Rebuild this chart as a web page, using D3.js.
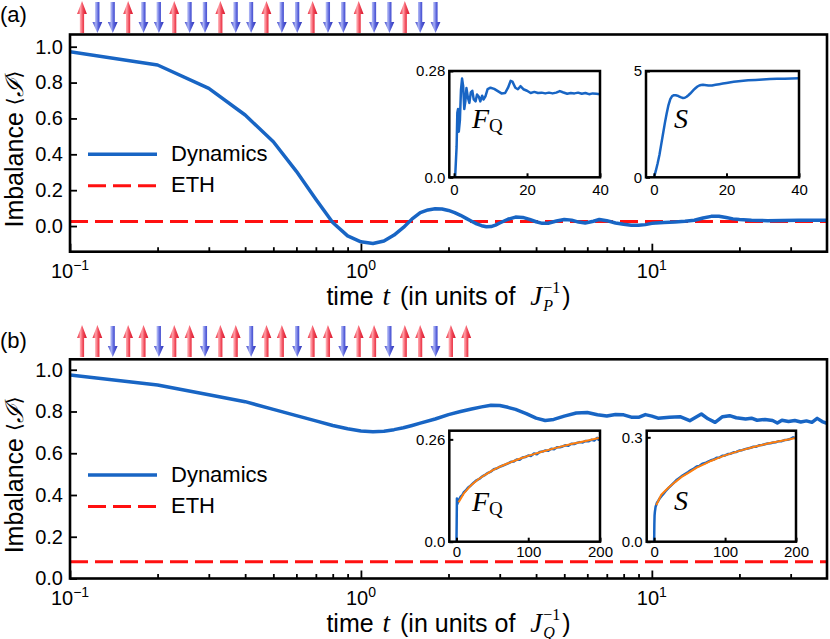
<!DOCTYPE html>
<html><head><meta charset="utf-8">
<script src="https://cdn.jsdelivr.net/npm/d3@7"></script>
<style>
body{margin:0;background:#fff;}
svg{display:block;}
</style></head><body>
<svg id="c" width="830" height="639"></svg>
<script>
// ---------------- data ----------------
const spinsA = [1,-1,-1,1,-1,-1,1,-1,-1,1,-1,-1,1,-1,-1,1,-1,-1,1,-1,-1,1,-1,-1];
const spinsB = [1,1,-1,1,1,-1,1,1,-1,1,1,-1,1,1,-1,1,1,-1,1,1,-1,1,1,-1,1,1];

const tA = [0.1,0.2,0.3,0.4,0.5,0.6,0.7,0.8,0.9,1.0,1.1,1.2,1.3,1.4,1.5,1.6,1.7,1.8,1.9,2.0,2.1,2.2,2.3,2.4,2.5,2.6,2.7,2.8,2.9,3.0,3.2,3.4,3.6,3.8,4.0,4.2,4.4,4.7,5.0,5.3,5.6,5.9,6.3,6.6,7.0,7.5,8.0,8.5,9.0,9.5,10,11,12,13,14,15,16,17,18,19,20,22,25,28,32,36,40];
const imbA = [0.972,0.898,0.768,0.619,0.47,0.305,0.15,0.02,-0.055,-0.088,-0.097,-0.083,-0.05,-0.008,0.04,0.075,0.09,0.096,0.095,0.087,0.075,0.06,0.043,0.027,0.012,0.002,-0.004,-0.003,0.005,0.017,0.038,0.05,0.048,0.037,0.024,0.015,0.016,0.028,0.037,0.033,0.022,0.017,0.027,0.037,0.03,0.017,0.01,0.005,0.004,0.008,0.015,0.02,0.023,0.027,0.032,0.045,0.054,0.055,0.048,0.04,0.036,0.032,0.03,0.031,0.033,0.032,0.033];

const tB = [0.1,0.2,0.3,0.4,0.5,0.6,0.7,0.8,0.9,1.0,1.1,1.2,1.3,1.4,1.5,1.6,1.8,2.0,2.2,2.4,2.6,2.8,3.0,3.2,3.4,3.7,4.0,4.3,4.6,5.0,5.5,6.0,6.5,7.0,7.5,8.0,8.5,9.0,9.5,10,10.5,11.5,12.5,13.5,14.8,15.6,16.5,17.5,18.5,19.5,21,22,23,24.5,26,27,28,29.5,31,32.5,34,35.5,37,38.5,40];
const imbB = [0.975,0.927,0.88,0.847,0.81,0.78,0.755,0.733,0.717,0.707,0.703,0.705,0.713,0.722,0.733,0.744,0.764,0.785,0.8,0.812,0.822,0.83,0.829,0.82,0.81,0.79,0.768,0.757,0.762,0.778,0.793,0.795,0.784,0.778,0.786,0.784,0.773,0.772,0.785,0.778,0.768,0.772,0.775,0.756,0.788,0.765,0.748,0.775,0.78,0.77,0.764,0.768,0.758,0.762,0.757,0.745,0.758,0.752,0.757,0.75,0.755,0.748,0.767,0.752,0.743];

const ethA = 0.025;
const ethB = 0.08;

const timeDomain = [0.1, 40];
const majorTimeTicks = [0.1, 1, 10];
const majorTimeExp = ["\u22121", "0", "1"];
const minorTimeTicks = [0.2,0.3,0.4,0.5,0.6,0.7,0.8,0.9,2,3,4,5,6,7,8,9,20,30];
const yTicksA = [0.0, 0.2, 0.4, 0.6, 0.8, 1.0];
const yTicksB = [0.0, 0.2, 0.4, 0.6, 0.8, 1.0];

// inset (a) Fisher information
const fqAx = [0,0.3,0.7,0.9,1.1,1.3,1.6,1.9,2.2,2.5,2.8,3.1,3.4,3.8,4.2,4.6,5.0,5.4,5.9,6.3,6.8,7.2,7.7,8.1,8.6,9.2,10,11,12,13,14,14.8,15.5,16,16.8,17.5,18.2,19,20,21,22,23,24,25,26,27,28,29,29.8,31,32,33,34,35,36,37,38,39,40];
const fqAy = [0,0,0.08,0.17,0.18,0.12,0.15,0.23,0.26,0.24,0.18,0.2,0.235,0.21,0.196,0.224,0.228,0.205,0.2,0.218,0.212,0.2,0.215,0.205,0.213,0.232,0.236,0.233,0.227,0.221,0.222,0.236,0.254,0.252,0.236,0.232,0.24,0.232,0.228,0.222,0.225,0.222,0.223,0.221,0.223,0.221,0.223,0.227,0.224,0.22,0.222,0.221,0.223,0.22,0.222,0.219,0.221,0.22,0.219];
// inset (a) entropy
const sAx = [0,0.5,1,1.5,2,2.5,3,3.5,4,4.5,5,5.5,6,6.5,7,7.5,8,8.5,9,9.5,10,10.5,11,11.5,12,12.5,13,13.5,14,15,16,17,18,19,20,22,24,26,28,30,32,34,36,38,40];
const sAy = [0,0.3,0.65,1.05,1.55,2.05,2.55,3.0,3.4,3.68,3.82,3.86,3.86,3.84,3.8,3.76,3.73,3.74,3.79,3.86,3.94,4.03,4.12,4.2,4.27,4.32,4.34,4.35,4.34,4.32,4.32,4.35,4.38,4.41,4.44,4.49,4.53,4.56,4.58,4.6,4.62,4.63,4.64,4.65,4.66];
// inset (b) Fisher information
const fqBx = [0,0.3,0.6,1,2,4,6,8,10,13,16,20,24,28,32,36,40,44,48,52,56,60,64,68,72,76,80,84,88,92,96,100,104,108,112,116,120,124,128,132,136,140,144,148,152,156,160,164,168,172,176,180,184,188,192,196,198,200];
const fqBy = [0,0.05,0.11,0.095,0.1,0.108,0.115,0.118,0.125,0.13,0.137,0.143,0.15,0.156,0.16,0.166,0.17,0.175,0.178,0.184,0.186,0.19,0.193,0.196,0.199,0.203,0.204,0.209,0.208,0.214,0.215,0.219,0.218,0.224,0.222,0.228,0.229,0.232,0.231,0.236,0.235,0.24,0.24,0.242,0.245,0.244,0.249,0.248,0.251,0.253,0.252,0.256,0.255,0.259,0.257,0.264,0.259,0.262];
const fqFitBx = [3,10,20,30,40,50,60,70,80,90,100,120,140,160,180,200];
const fqFitBy = [0.1,0.122,0.143,0.158,0.17,0.181,0.19,0.198,0.205,0.212,0.218,0.229,0.239,0.248,0.256,0.264];
// inset (b) entropy
const sBx = [0,0.3,0.6,1,2,4,6,8,10,13,16,20,24,28,32,36,40,44,48,52,56,60,64,68,72,76,80,84,88,92,96,100,104,108,112,116,120,124,128,132,136,140,144,148,152,156,160,164,168,172,176,180,184,188,192,196,200];
const sBy = [0,0.05,0.075,0.085,0.1,0.112,0.118,0.125,0.13,0.137,0.145,0.154,0.162,0.17,0.178,0.184,0.19,0.195,0.2,0.206,0.21,0.216,0.218,0.224,0.226,0.23,0.234,0.236,0.241,0.242,0.247,0.248,0.252,0.253,0.257,0.258,0.262,0.263,0.266,0.268,0.27,0.273,0.273,0.277,0.278,0.28,0.282,0.283,0.285,0.286,0.289,0.289,0.292,0.293,0.295,0.3,0.297];
const sFitBx = [3,10,20,30,40,50,60,70,80,90,100,120,140,160,180,200];
const sFitBy = [0.105,0.135,0.155,0.172,0.188,0.2,0.213,0.222,0.232,0.24,0.248,0.261,0.272,0.282,0.29,0.298];

// ---------------- drawing ----------------
const SANS = '"Liberation Sans", Arial, Helvetica, sans-serif';
const SERIF = '"Liberation Serif", "DejaVu Serif", "Times New Roman", serif';
const BLUE = "#1865c4", RED = "#ff1010", ORANGE = "#ff7f0e";
const svg = d3.select("#c");
const defs = svg.append("defs");

function grad(id, stops) {
  const g = defs.append("linearGradient").attr("id", id).attr("x1","0").attr("x2","1").attr("y1","0").attr("y2","0");
  stops.forEach(s => g.append("stop").attr("offset", s[0]).attr("stop-color", s[1]));
}
grad("gRed", [["0%","#e8283a"],["35%","#ffa0a8"],["60%","#f04858"],["100%","#d8142a"]]);
grad("gBlue", [["0%","#3c44c8"],["35%","#a8b0f4"],["60%","#5660da"],["100%","#3036b8"]]);

function rich(parent, pieces, x, y, anchor) {
  const g = parent.append("g");
  let cx = 0, lastX = 0, lastW = 0;
  pieces.forEach(p => {
    const t = g.append("text").text(p.t)
      .attr("y", p.dy || 0)
      .style("font-family", p.font || (p.serif ? SERIF : SANS))
      .style("font-size", p.size + "px")
      .style("font-style", p.italic ? "italic" : "normal")
      .attr("fill", "#000");
    const w = t.node().getComputedTextLength();
    if (p.stack) {
      t.attr("x", lastX);
      const m = Math.max(lastW, w);
      cx = lastX + m + (p.gap || 0); lastW = m;
    } else {
      t.attr("x", cx); lastX = cx; lastW = w; cx += w + (p.gap || 0);
    }
  });
  const off = anchor === "middle" ? -cx / 2 : anchor === "end" ? -cx : 0;
  g.attr("transform", `translate(${x + off},${y})`);
  return g;
}

function drawArrows(spins, yTop, yBot) {
  const ax = d3.scaleLinear().domain([0, 1]).range([82, 82 + 15.37]);
  const g = svg.append("g");
  spins.forEach((s, i) => {
    const cx = ax(i);
    let p;
    if (s > 0) {
      const hb = yTop + 13;
      p = `M${cx-2.1},${yBot} L${cx-2.1},${hb} L${cx-4.9},${hb} L${cx},${yTop} L${cx+4.9},${hb} L${cx+2.1},${hb} L${cx+2.1},${yBot} Z`;
    } else {
      const hb = yBot - 11;
      p = `M${cx-2.1},${yTop+1} L${cx-2.1},${hb} L${cx-4.9},${hb} L${cx},${yBot} L${cx+4.9},${hb} L${cx+2.1},${hb} L${cx+2.1},${yTop+1} Z`;
    }
    g.append("path").attr("d", p).attr("fill", s > 0 ? "url(#gRed)" : "url(#gBlue)");
  });
}

function drawInset(cfg) {
  const g = svg.append("g");
  const x = d3.scaleLinear().domain(cfg.xDomain).range([cfg.left, cfg.right]);
  const y = d3.scaleLinear().domain(cfg.yDomain).range([cfg.bottom, cfg.top]);
  g.append("rect").attr("x", cfg.left).attr("y", cfg.top)
    .attr("width", cfg.right - cfg.left).attr("height", cfg.bottom - cfg.top).attr("fill", "#fff");
  const cid = "clip" + cfg.id;
  defs.append("clipPath").attr("id", cid).append("rect")
    .attr("x", cfg.left).attr("y", cfg.top).attr("width", cfg.right - cfg.left).attr("height", cfg.bottom - cfg.top);
  const lines = g.append("g").attr("clip-path", `url(#${cid})`);
  cfg.series.forEach(s => {
    const line = d3.line().x((d, i) => x(s.x[i])).y((d, i) => y(s.y[i]));
    lines.append("path").datum(s.y).attr("d", line).attr("fill", "none")
      .attr("stroke", s.color).attr("stroke-width", s.w).attr("stroke-linejoin", "round");
  });
  // ticks
  const xa = d3.axisBottom(x).tickValues(cfg.xTicks).tickSize(-4).tickPadding(5).tickFormat(d3.format("d"));
  const xg = g.append("g").attr("transform", `translate(0,${cfg.bottom})`).call(xa);
  const ya = d3.axisLeft(y).tickValues(cfg.yTicks).tickSize(-4).tickPadding(4).tickFormat((d, i) => cfg.yLabels[i]);
  const yg = g.append("g").attr("transform", `translate(${cfg.left},0)`).call(ya);
  [xg, yg].forEach(a => {
    a.select(".domain").remove();
    a.selectAll("line").attr("stroke", "#000").attr("stroke-width", 2);
    a.selectAll("text").style("font-family", SANS).style("font-size", "15px").attr("fill", "#000");
  });
  xg.selectAll("text").attr("y", 0).attr("dy", 0).attr("transform", `translate(0,${cfg.xLabY})`);
  g.append("rect").attr("x", cfg.left).attr("y", cfg.top)
    .attr("width", cfg.right - cfg.left).attr("height", cfg.bottom - cfg.top)
    .attr("fill", "none").attr("stroke", "#000").attr("stroke-width", 2.5);
  rich(g, cfg.label, cfg.labX, cfg.labY, "start");
}

function drawMain(cfg) {
  const L = 70, R = 827;
  const x = d3.scaleLog().domain(timeDomain).range([L, R]);
  const y = d3.scaleLinear().domain(cfg.yDomain).range([cfg.bottom, cfg.top]);
  const g = svg.append("g");
  const cid = "clipMain" + cfg.id;
  defs.append("clipPath").attr("id", cid).append("rect")
    .attr("x", L).attr("y", cfg.top).attr("width", R - L).attr("height", cfg.bottom - cfg.top);
  const plot = g.append("g").attr("clip-path", `url(#${cid})`);
  // ETH
  plot.append("line").attr("x1", x(timeDomain[0])).attr("x2", x(timeDomain[1]))
    .attr("y1", y(cfg.eth)).attr("y2", y(cfg.eth))
    .attr("stroke", RED).attr("stroke-width", 3).attr("stroke-dasharray", "18,7");
  const line = d3.line().x((d, i) => x(cfg.t[i])).y((d, i) => y(cfg.v[i]));
  plot.append("path").datum(cfg.v).attr("d", line).attr("fill", "none")
    .attr("stroke", BLUE).attr("stroke-width", 3.5).attr("stroke-linejoin", "round");

  // axes
  const xa = d3.axisBottom(x).tickValues(majorTimeTicks).tickSize(-8).tickFormat("");
  const xm = d3.axisBottom(x).tickValues(minorTimeTicks).tickSize(-4.5).tickFormat("");
  const ya = d3.axisLeft(y).tickValues(cfg.yTicks).tickSize(-7).tickPadding(7).tickFormat(d3.format(".1f"));
  const gx = g.append("g").attr("transform", `translate(0,${cfg.bottom})`).call(xa);
  const gxm = g.append("g").attr("transform", `translate(0,${cfg.bottom})`).call(xm);
  const gy = g.append("g").attr("transform", `translate(${L},0)`).call(ya);
  [gx, gxm, gy].forEach(a => {
    a.select(".domain").remove();
    a.selectAll("line").attr("stroke", "#000").attr("stroke-width", 1.8);
  });
  gy.selectAll("text").style("font-family", SANS).style("font-size", "20px").attr("fill", "#000");
  majorTimeTicks.forEach((d, i) => {
    rich(g, [
      {t: "10", size: 20},
      {t: majorTimeExp[i], size: 14, dy: -8}
    ], x(d), cfg.bottom + 26, "middle");
  });
  g.append("rect").attr("x", L).attr("y", cfg.top).attr("width", R - L).attr("height", cfg.bottom - cfg.top)
    .attr("fill", "none").attr("stroke", "#000").attr("stroke-width", 2.6);

  // x label
  rich(g, [
    {t: "time\u00A0", size: 25, gap: 2},
    {t: "t", size: 27, serif: true, italic: true, gap: 3},
    {t: "\u00A0(in units of\u00A0\u00A0", size: 25, gap: 1},
    {t: "J", size: 27, serif: true, italic: true, gap: 1},
    {t: cfg.sub, size: 16, serif: true, italic: true, dy: 6},
    {t: "\u22121", size: 16, serif: true, dy: -12, stack: true, gap: 2},
    {t: ")", size: 25}
  ], (L + R) / 2, cfg.bottom + 53, "middle");

  // y label
  const yl = g.append("g").attr("transform", `translate(23,${(cfg.top + cfg.bottom) / 2 + 6}) rotate(-90)`);
  rich(yl, [
    {t: "Imbalance\u00A0", size: 25},
    {t: "\u27E8", size: 20, font: '"DejaVu Sans", sans-serif', dy: -2},
    {t: "\u2110", size: 25, serif: true, italic: true},
    {t: "\u27E9", size: 20, font: '"DejaVu Sans", sans-serif', dy: -2}
  ], 0, 0, "middle");

  // legend
  const lg = g.append("g");
  lg.append("line").attr("x1", 88).attr("x2", 157).attr("y1", cfg.legY).attr("y2", cfg.legY)
    .attr("stroke", BLUE).attr("stroke-width", 3.5);
  lg.append("text").attr("x", 171).attr("y", cfg.legY + 6.5).text("Dynamics")
    .style("font-family", SANS).style("font-size", "22px");
  lg.append("line").attr("x1", 88).attr("x2", 157).attr("y1", cfg.legY + 31.5).attr("y2", cfg.legY + 31.5)
    .attr("stroke", RED).attr("stroke-width", 3).attr("stroke-dasharray", "18,7");
  lg.append("text").attr("x", 171).attr("y", cfg.legY + 38).text("ETH")
    .style("font-family", SANS).style("font-size", "22px");

  // panel tag
  g.append("text").attr("x", 0).attr("y", cfg.tagY).text(cfg.tag)
    .style("font-family", SANS).style("font-size", "22px");
}

// Panel (a)
drawMain({id: "a", top: 34.5, bottom: 251.7, yDomain: [-0.143, 1.068], yTicks: yTicksA,
  t: tA, v: imbA, eth: ethA, sub: "P", legY: 154.3, tag: "(a)", tagY: 22});
drawArrows(spinsA, 1, 33);
drawInset({id: "a1", left: 449.3, right: 600, top: 71, bottom: 177.3, xDomain: [-1.3, 40], yDomain: [0, 0.28],
  xTicks: [0, 20, 40], yTicks: [0, 0.28], yLabels: ["0.0", "0.28"], xLabY: 18,
  series: [{x: fqAx, y: fqAy, color: BLUE, w: 2.5}],
  label: [{t: "F", size: 28, serif: true, italic: true}, {t: "Q", size: 19, serif: true, dy: 4}], labX: 472, labY: 128});
drawInset({id: "a2", left: 646, right: 799, top: 71, bottom: 177.3, xDomain: [-2.2, 40], yDomain: [0, 5],
  xTicks: [0, 20, 40], yTicks: [0, 5], yLabels: ["0", "5"], xLabY: 18,
  series: [{x: sAx, y: sAy, color: BLUE, w: 2.5}],
  label: [{t: "S", size: 28, serif: true, italic: true}], labX: 674, labY: 128});

// Panel (b)
drawMain({id: "b", top: 359.3, bottom: 578.5, yDomain: [0, 1.05], yTicks: yTicksB,
  t: tB, v: imbB, eth: ethB, sub: "Q", legY: 475, tag: "(b)", tagY: 348});
drawArrows(spinsB, 325, 357);
drawInset({id: "b1", left: 449.3, right: 600, top: 430.7, bottom: 541.7, xDomain: [-10, 200], yDomain: [0, 0.282],
  xTicks: [0, 100, 200], yTicks: [0, 0.26], yLabels: ["0.0", "0.26"], xLabY: 15,
  series: [{x: fqBx, y: fqBy, color: BLUE, w: 2.5}, {x: fqFitBx, y: fqFitBy, color: ORANGE, w: 2}],
  label: [{t: "F", size: 28, serif: true, italic: true}, {t: "Q", size: 19, serif: true, dy: 4}], labX: 472, labY: 511});
drawInset({id: "b2", left: 646.7, right: 796, top: 430.7, bottom: 541.7, xDomain: [-10.5, 200], yDomain: [0, 0.319],
  xTicks: [0, 100, 200], yTicks: [0, 0.3], yLabels: ["0.0", "0.3"], xLabY: 15,
  series: [{x: sBx, y: sBy, color: BLUE, w: 2.5}, {x: sFitBx, y: sFitBy, color: ORANGE, w: 2}],
  label: [{t: "S", size: 28, serif: true, italic: true}], labX: 674, labY: 510});
</script>
</body></html>
